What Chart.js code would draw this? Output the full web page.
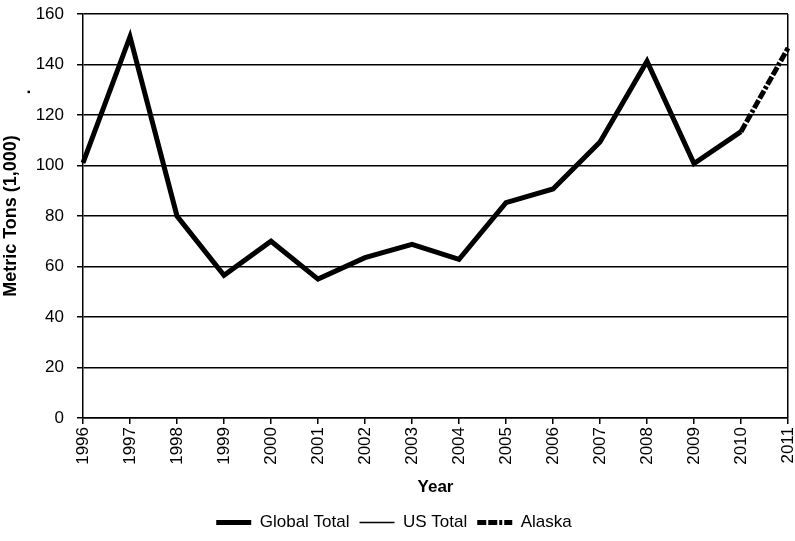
<!DOCTYPE html>
<html>
<head>
<meta charset="utf-8">
<script src="https://cdn.jsdelivr.net/npm/chart.js@4"></script>
<style>
    html, body { margin: 0; padding: 0; background: #fff; }
    #wrap { width: 795px; height: 541px; }
</style>
</head>
<body>
<div id="wrap"><canvas id="myChart" width="795" height="541"></canvas></div>
<script>
// Données
const years = ['1996', '1997', '1998', '1999', '2000', '2001', '2002', '2003',
    '2004', '2005', '2006', '2007', '2008', '2009', '2010', '2011'];
const globalTotal = [101, 151, 80, 56.5, 70, 55, 63.5, 68.8, 62.8, 85.3, 90.7, 109.3, 141.3, 100.8, 113.4, null];
const usTotal = [101, 151, 80, 56.5, 70, 55, 63.5, 68.8, 62.8, 85.3, 90.7, 109.3, 141.3, 100.8, 113.4, null];
const alaska = [null, null, null, null, null, null, null, null, null, null, null, null, null, null, 113.4, 146.5];
const yTicks = [0, 20, 40, 60, 80, 100, 120, 140, 160];

const fontFamily = 'Arial, "Liberation Sans", sans-serif';

// petit point au-dessus du titre de l'axe Y
const dotPlugin = {
    id: 'dot',
    afterDraw(chart) {
        const ctx = chart.ctx;
        ctx.save();
        ctx.fillStyle = '#000';
        ctx.font = 'bold 17px ' + fontFamily;
        ctx.textAlign = 'center';
        ctx.textBaseline = 'middle';
        ctx.translate(25, 92);
        ctx.rotate(-Math.PI / 2);
        ctx.fillText('.', 0, 0);
        ctx.restore();
    }
};

const ctx = document.getElementById('myChart').getContext('2d');

new Chart(ctx, {
    type: 'line',
    data: {
        labels: years,
        datasets: [{
            label: 'Global Total',
            data: globalTotal,
            borderColor: '#000',
            borderWidth: 5,
            pointRadius: 0,
            tension: 0
        }, {
            label: 'US Total',
            data: usTotal,
            borderColor: '#000',
            borderWidth: 1.5,
            pointRadius: 0,
            tension: 0
        }, {
            label: 'Alaska',
            data: alaska,
            borderColor: '#000',
            borderWidth: 5,
            borderDash: [9, 2, 9, 2, 3, 2],
            pointRadius: 0,
            tension: 0
        }]
    },
    options: {
        responsive: false,
        animation: false,
        layout: {
            padding: { top: 14, right: 7, left: 0, bottom: 0 }
        },
        plugins: {
            tooltip: { enabled: false },
            legend: {
                position: 'bottom',
                labels: {
                    color: '#000',
                    font: { family: fontFamily, size: 17 },
                    usePointStyle: true,
                    pointStyle: 'line',
                    pointStyleWidth: 35,
                    padding: 10,
                    // garder les pointillés du jeu de données dans la légende
                    generateLabels: function(chart) {
                        const items = Chart.defaults.plugins.legend.labels.generateLabels(chart);
                        items.forEach(item => {
                            const ds = chart.data.datasets[item.datasetIndex];
                            item.lineDash = ds.borderDash || [];
                            item.lineWidth = ds.borderWidth;
                        });
                        return items;
                    }
                }
            }
        },
        scales: {
            x: {
                afterFit: function(scale) {
                    scale.height = 86;
                    scale.paddingLeft = 0;
                    scale.paddingRight = 0;
                },
                grid: {
                    color: function(c) {
                        return c.index === years.length - 1 ? '#000' : 'rgba(0,0,0,0)';
                    },
                    tickColor: '#000',
                    tickLength: 6,
                    lineWidth: 1.5
                },
                border: { color: '#000', width: 1.5 },
                ticks: {
                    color: '#000',
                    font: { family: fontFamily, size: 17 },
                    maxRotation: 90,
                    minRotation: 90,
                    autoSkip: false,
                    padding: 3
                },
                title: {
                    display: true,
                    text: 'Year',
                    color: '#000',
                    font: { family: fontFamily, size: 17, weight: 'bold' },
                    padding: { top: 0, bottom: 6 }
                }
            },
            y: {
                min: 0,
                max: 160,
                afterFit: function(scale) {
                    scale.width = 83;
                    scale.paddingTop = 0;
                    scale.paddingBottom = 0;
                },
                afterBuildTicks: function(scale) {
                    scale.ticks = yTicks.map(v => ({ value: v }));
                },
                grid: {
                    color: '#000',
                    lineWidth: 1.5,
                    tickLength: 6
                },
                border: { color: '#000', width: 1.5 },
                ticks: {
                    color: '#000',
                    font: { family: fontFamily, size: 17 },
                    padding: 13
                },
                title: {
                    display: true,
                    text: 'Metric Tons (1,000)',
                    color: '#000',
                    font: { family: fontFamily, size: 18, weight: 'bold' },
                    padding: { top: 0, bottom: 1 }
                }
            }
        }
    },
    plugins: [dotPlugin]
});
</script>
</body>
</html>
